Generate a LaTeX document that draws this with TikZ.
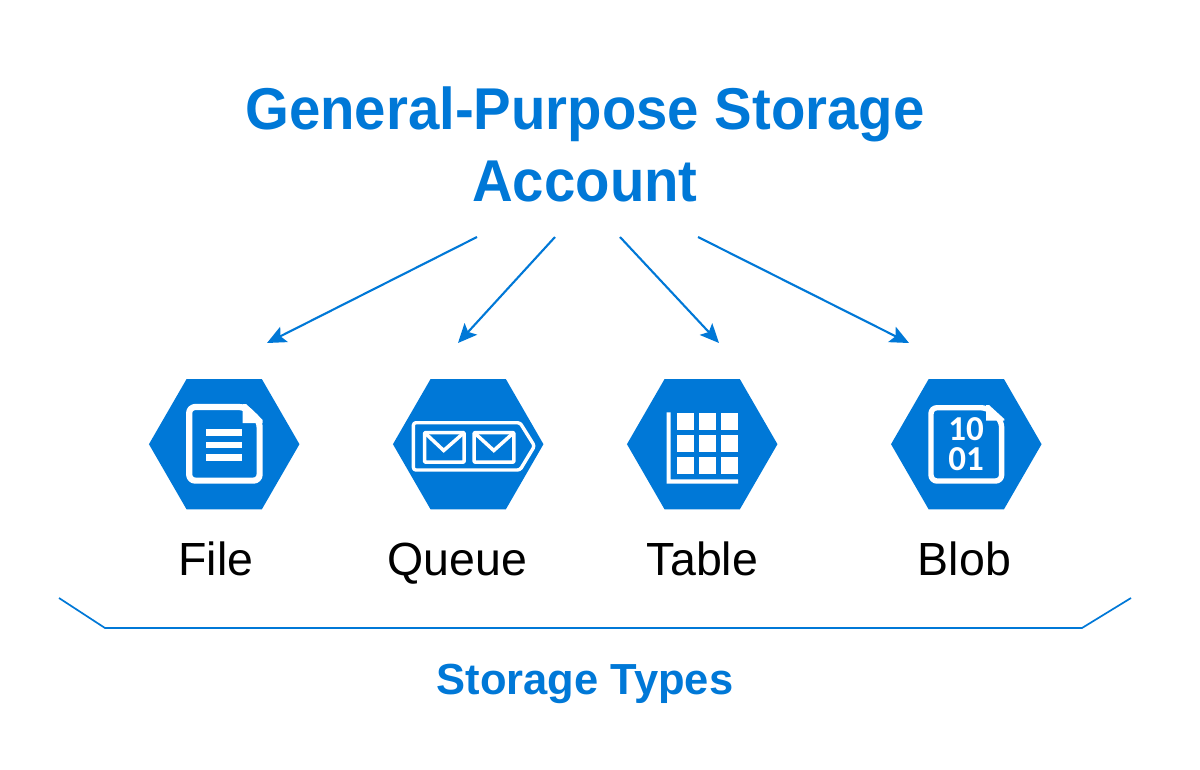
\documentclass[tikz,border=0pt]{standalone}
\usepackage{fontspec}
\setmainfont{Liberation Sans}
\newfontfamily\digitfont{Carlito}
\usetikzlibrary{shapes.geometric,arrows.meta}
\definecolor{azure}{HTML}{0078D7}
\tikzset{
  x=1pt,y=-1pt,
  hexa/.style={regular polygon,regular polygon sides=6,minimum size=150.5pt,inner sep=0pt,outer sep=0pt,fill=azure,draw=none},
  arrowline/.style={azure,line width=2.1pt,-{Stealth[length=19pt,width=17pt,inset=4pt]}},
  bracketline/.style={azure,line width=1.7pt,line join=round},
  headtext/.style={anchor=base,inner sep=0pt,text=azure,xscale=0.955,transform shape,font=\fontsize{59}{59}\selectfont\bfseries},
  subtext/.style={anchor=base,inner sep=0pt,text=azure,font=\fontsize{43.5}{43.5}\selectfont\bfseries},
  labeltext/.style={anchor=base,inner sep=0pt,text=black,font=\fontsize{46.5}{46.5}\selectfont},
  digittext/.style={anchor=center,inner sep=0pt,align=center,text=white,font=\digitfont\fontsize{35}{30.7}\selectfont\bfseries},
  iconline/.style={draw=white,line join=round},
  iconfill/.style={fill=white,draw=none},
}
\begin{document}
\begin{tikzpicture}
\useasboundingbox (0,0) rectangle (1200,769);
\fill[white] (0,0) rectangle (1200,769);
% headings
\node[headtext] (title1) at (585,129) {General-Purpose Storage};
\node[headtext] (title2) at (585,201) {Account};
% arrows
\coordinate (s1) at (477,237); \coordinate (e1) at (267,343);
\coordinate (s2) at (555,237); \coordinate (e2) at (458,343);
\coordinate (s3) at (620,237); \coordinate (e3) at (719,343);
\coordinate (s4) at (698,237); \coordinate (e4) at (909,343);
\draw[arrowline] (s1) -- (e1);
\draw[arrowline] (s2) -- (e2);
\draw[arrowline] (s3) -- (e3);
\draw[arrowline] (s4) -- (e4);
% hexagons
\node[hexa] (hfile) at (224.2,444.2) {};
\node[hexa] (hqueue) at (468.2,444.2) {};
\node[hexa] (htable) at (702.2,444.2) {};
\node[hexa] (hblob) at (966.3,444.2) {};
% file icon
\draw[iconline,line width=6.2pt,rounded corners=6pt] (220,407) -- (189.2,407) -- (189.2,480.6) -- (259.6,480.6) -- (259.6,421) -- (245,407) -- cycle;
\fill[iconfill] (242.7,404) -- (246,404) -- (262.7,420) -- (262.7,423) -- (242.7,423) -- cycle;
\fill[iconfill] (206,429.3) rectangle (241.5,436);
\fill[iconfill] (206,441.7) rectangle (241.5,448.3);
\fill[iconfill] (206,454.3) rectangle (241.5,461);
% queue icon
\draw[iconline,line width=3.4pt,rounded corners=2.5pt] (470,422.7) -- (413.4,422.7) -- (413.4,470) -- (520,470) -- (534.5,446) -- (520,422.7) -- cycle;
\draw[iconline,line width=3.5pt,rounded corners=1pt] (424.5,432.5) rectangle (464.2,462.2);
\draw[iconline,line width=3.5pt,line join=miter] (424.5,432.5) -- (443.7,450.5) -- (464.2,432.5);
\draw[iconline,line width=3.5pt,rounded corners=1pt] (474.1,432.5) rectangle (513.9,462.2);
\draw[iconline,line width=3.5pt,line join=miter] (474.1,432.5) -- (493.8,450.5) -- (513.9,432.5);
% table icon
\fill[iconfill] (666.7,412.3) -- (670.7,412.3) -- (670.7,479.3) -- (738,479.3) -- (738,483.7) -- (666.7,483.7) -- cycle;
\foreach \cx in {676.7,698.7,720.7}
  \foreach \cy in {413,435,457}
    \fill[iconfill] (\cx,\cy) rectangle ++(17.4,17.4);
% blob icon
\draw[iconline,line width=5.4pt,rounded corners=6pt] (960,407.7) -- (931,407.7) -- (931,481) -- (1001.6,481) -- (1001.6,421) -- (987,407.7) -- cycle;
\fill[iconfill] (986,405) -- (989,405) -- (1004.3,419) -- (1004.3,420.7) -- (986,420.7) -- cycle;
\node[digittext] (digits) at (966,444) {10\\01};
% labels
\node[labeltext] (lfile) at (216,575) {File};
\node[labeltext] (lqueue) at (457.5,575) {Queue};
\node[labeltext] (ltable) at (702.5,575) {Table};
\node[labeltext] (lblob) at (964.5,575) {Blob};
% bracket
\coordinate (b1) at (59,598); \coordinate (b2) at (105,628);
\coordinate (b3) at (1082,628); \coordinate (b4) at (1131,598);
\draw[bracketline] (b1) -- (b2) -- (b3) -- (b4);
\node[subtext] (stypes) at (585,694) {Storage Types};
\end{tikzpicture}
\end{document}
